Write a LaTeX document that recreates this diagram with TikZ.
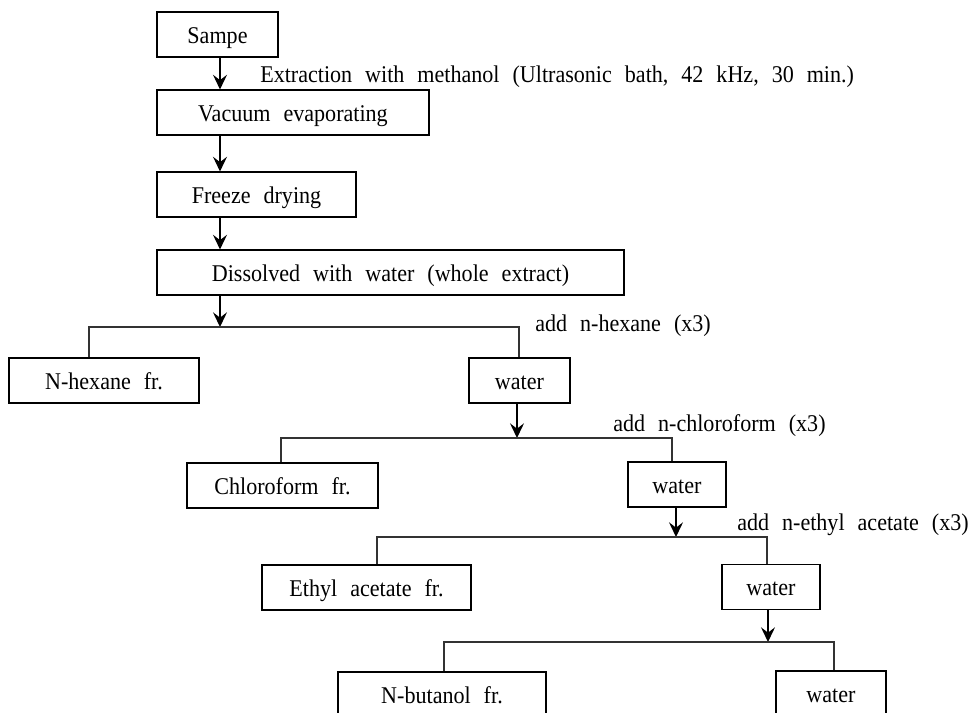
\documentclass[tikz,border=0pt]{standalone}
\usepackage{fontspec}
\setmainfont{Liberation Serif}[WordSpace=2.35,FakeStretch=0.92]
\usetikzlibrary{arrows.meta}
\begin{document}
\begin{tikzpicture}[x=0.75pt,y=-0.75pt,
  box/.style={draw=black,line width=0.8pt,rectangle,inner sep=0pt,minimum height=33.75pt,text height=12.8pt,text depth=0pt,font=\fontsize{18}{21}\selectfont},
  lbl/.style={inner sep=0pt,anchor=base west,font=\fontsize{18}{21}\selectfont},
  conn/.style={draw=black!80,line width=0.8pt},
  arr/.style={draw=black,line width=1pt,-{Stealth[length=11pt,width=10.5pt,inset=4pt]}}]
\useasboundingbox (0,0) rectangle (972,713);
% boxes
\node[box,minimum width=90.75pt] (sampe) at (217.5,34.5) {Sampe};
\node[box,minimum width=204pt] (vac) at (293,112.5) {Vacuum evaporating};
\node[box,minimum width=149.25pt] (frz) at (256.5,194.5) {Freeze drying};
\node[box,minimum width=350.25pt] (dis) at (390.5,272.5) {Dissolved with water (whole extract)};
\node[box,minimum width=142.5pt] (nhex) at (104,380.5) {N-hexane fr.};
\node[box,minimum width=75.75pt] (w1) at (519.5,380.5) {water};
\node[box,minimum width=143.25pt] (chl) at (282.5,485.5) {Chloroform fr.};
\node[box,minimum width=73.5pt] (w2) at (677,484.5) {water};
\node[box,minimum width=156.75pt] (eth) at (366.5,587.5) {Ethyl acetate fr.};
\node[box,minimum width=73.5pt] (w3) at (771,587) {water};
\node[box,minimum width=156pt] (nbut) at (442,694.5) {N-butanol fr.};
\node[box,minimum width=82.5pt] (w4) at (831,693.5) {water};
% labels
\node[lbl] (l0) at (260,83) {Extraction with methanol (Ultrasonic bath, 42 kHz, 30 min.)};
\node[lbl] (l1) at (535,331) {add n-hexane (x3)};
\node[lbl] (l2) at (613,431) {add n-chloroform (x3)};
\node[lbl] (l3) at (737,530) {add n-ethyl acetate (x3)};
% split coordinates
\coordinate (s1) at (220,327);
\coordinate (s1l) at (89,327);
\coordinate (s1r) at (519,327);
\coordinate (s2) at (517,438);
\coordinate (s2l) at (281,438);
\coordinate (s2r) at (672,438);
\coordinate (s3) at (676,537);
\coordinate (s3l) at (377,537);
\coordinate (s3r) at (767,537);
\coordinate (s4) at (768,642);
\coordinate (s4l) at (444,642);
\coordinate (s4r) at (834,642);
% main chain
\draw[arr] (sampe.south -| s1) -- (vac.north -| s1);
\draw[arr] (vac.south -| s1) -- (frz.north -| s1);
\draw[arr] (frz.south -| s1) -- (dis.north -| s1);
\draw[arr] (dis.south -| s1) -- (s1);
\draw[conn] (nhex.north -| s1l) -- (s1l) -- (s1r) -- (w1.north -| s1r);
\draw[arr] (w1.south -| s2) -- (s2);
\draw[conn] (chl.north -| s2l) -- (s2l) -- (s2r) -- (w2.north -| s2r);
\draw[arr] (w2.south -| s3) -- (s3);
\draw[conn] (eth.north -| s3l) -- (s3l) -- (s3r) -- (w3.north -| s3r);
\draw[arr] (w3.south -| s4) -- (s4);
\draw[conn] (nbut.north -| s4l) -- (s4l) -- (s4r) -- (w4.north -| s4r);
\end{tikzpicture}
\end{document}
